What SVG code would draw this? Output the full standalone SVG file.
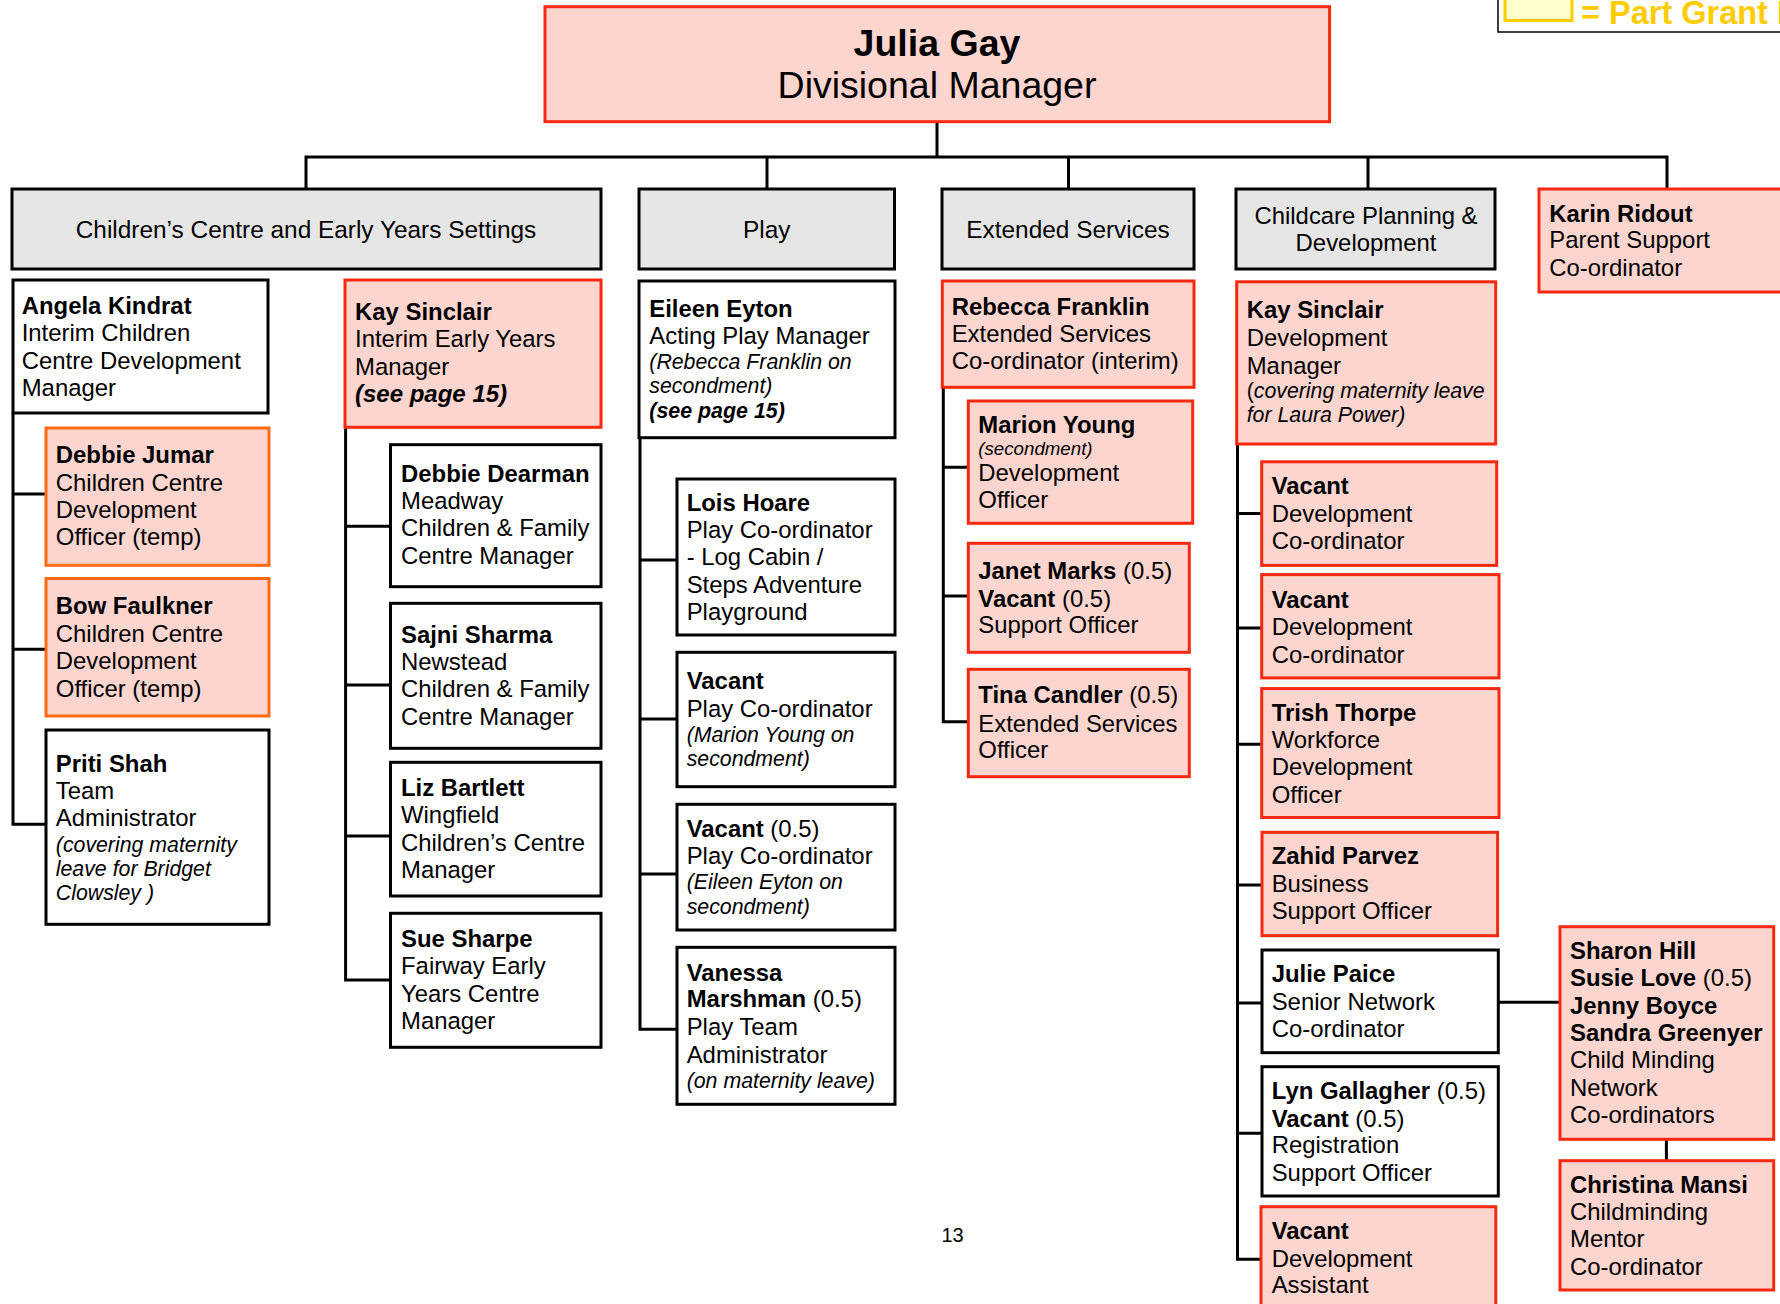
<svg xmlns="http://www.w3.org/2000/svg" width="1780" height="1304" viewBox="0 0 1780 1304">
<style>
.t{font-family:"Liberation Sans",Arial,Helvetica,sans-serif;font-size:23.9px;fill:#000}
.b{font-weight:bold}
.i{font-style:italic;font-size:21.3px}
.h{font-size:24.4px}
.bk{fill:#fff;stroke:#000;stroke-width:3}
.rd{fill:#FCD5CE;stroke:#F5290F;stroke-width:3}
.or{fill:#FCD5CE;stroke:#FF6A13;stroke-width:3}
.gr{fill:#E6E6E6;stroke:#000;stroke-width:3}
.c{fill:none;stroke:#000;stroke-width:3}
</style>
<rect width="1780" height="1304" fill="#fff"/>

<g id="legend">
<path d="M1498,-2 V32 H1784" fill="none" stroke="#000" stroke-width="1.5"/>
<rect x="1505" y="-6" width="67" height="26.5" fill="#FFFFCC" stroke="#FFCC00" stroke-width="3"/>
<text class="t b" x="1581" y="24" style="font-size:32.5px;fill:#FFCC00">= Part Grant Funded</text>
</g>

<g id="connectors">
<path class="c" d="M937,121 V157 M306,189 V157 H1667 V189 M767,157 V189 M1068.5,157 V189 M1368,157 V189"/>
<path class="c" d="M13,413 V824.3 H46 M13,494 H46 M13,649.3 H46"/>
<path class="c" d="M345.6,427 V980 H390.5 M345.6,526.3 H390.5 M345.6,685 H390.5 M345.6,836 H390.5"/>
<path class="c" d="M640,437.7 V1029.3 H677 M640,560 H677 M640,719 H677 M640,874 H677"/>
<path class="c" d="M943.3,387.3 V721.7 H968.3 M943.3,467.3 H968.3 M943.3,596 H968.3"/>
<path class="c" d="M1237.5,444 V1259.3 H1261.7 M1237.5,513.6 H1261.7 M1237.5,627.9 H1261.7 M1237.5,744.3 H1261.7 M1237.5,885 H1262 M1237.5,1003 H1262 M1237.5,1133.3 H1262"/>
<path class="c" d="M1498.3,1002.3 H1560 M1666.4,1139.3 V1160.7"/>
</g>

<g id="n-julia">
<rect class="rd" x="545" y="6.7" width="784.6" height="115"/>
<text class="t" text-anchor="middle" style="font-size:37.5px"><tspan class="b" x="937" y="55.5">Julia Gay</tspan><tspan x="937" y="97.5">Divisional Manager</tspan></text>
</g>

<g id="h-children">
<rect class="gr" x="12" y="189" width="589" height="80"/>
<text class="t h" x="306" y="238.3" text-anchor="middle">Children’s Centre and Early Years Settings</text>
</g>
<g id="h-play">
<rect class="gr" x="639" y="189" width="255.5" height="80"/>
<text class="t h" x="766.7" y="238.3" text-anchor="middle">Play</text>
</g>
<g id="h-extended">
<rect class="gr" x="942" y="189" width="252" height="80"/>
<text class="t h" x="1068" y="238.3" text-anchor="middle">Extended Services</text>
</g>
<g id="h-childcare">
<rect class="gr" x="1236" y="189" width="259" height="80"/>
<text class="t" text-anchor="middle"><tspan x="1366" y="224.3">Childcare Planning &amp;</tspan><tspan x="1366" y="251">Development</tspan></text>
</g>
<g id="n-karin">
<rect class="rd" x="1539" y="189" width="260" height="103"/>
<text class="t"><tspan class="b" x="1549.3" y="221.7">Karin Ridout</tspan><tspan x="1549.3" y="248.3">Parent Support</tspan><tspan x="1549.3" y="276">Co-ordinator</tspan></text>
</g>

<g id="n-angela">
<rect class="bk" x="13" y="280" width="255" height="133"/>
<text class="t"><tspan class="b" x="21.7" y="314">Angela Kindrat</tspan><tspan x="21.7" y="341.3">Interim Children</tspan><tspan x="21.7" y="368.6">Centre Development</tspan><tspan x="21.7" y="395.9">Manager</tspan></text>
</g>
<g id="n-debbie-jumar">
<rect class="or" x="46" y="428" width="223" height="137.3"/>
<text class="t"><tspan class="b" x="55.8" y="463.3">Debbie Jumar</tspan><tspan x="55.8" y="490.6">Children Centre</tspan><tspan x="55.8" y="518">Development</tspan><tspan x="55.8" y="545.3">Officer (temp)</tspan></text>
</g>
<g id="n-bow">
<rect class="or" x="46" y="578.5" width="223" height="137.5"/>
<text class="t"><tspan class="b" x="55.8" y="614.3">Bow Faulkner</tspan><tspan x="55.8" y="641.7">Children Centre</tspan><tspan x="55.8" y="669">Development</tspan><tspan x="55.8" y="696.5">Officer (temp)</tspan></text>
</g>
<g id="n-priti">
<rect class="bk" x="46" y="730" width="223" height="194.3"/>
<text class="t"><tspan class="b" x="55.8" y="771.7">Priti Shah</tspan><tspan x="55.8" y="798.5">Team</tspan><tspan x="55.8" y="825.7">Administrator</tspan><tspan class="i" x="55.8" y="851.7">(covering maternity</tspan><tspan class="i" x="55.8" y="875.5">leave for Bridget</tspan><tspan class="i" x="55.8" y="900">Clowsley )</tspan></text>
</g>

<g id="n-kay-ey">
<rect class="rd" x="345" y="280" width="256" height="147.3"/>
<text class="t"><tspan class="b" x="355" y="320">Kay Sinclair</tspan><tspan x="355" y="347.3">Interim Early Years</tspan><tspan x="355" y="375">Manager</tspan><tspan class="b" x="355" y="402.3" style="font-style:italic;font-size:24px">(see page 15)</tspan></text>
</g>
<g id="n-dearman">
<rect class="bk" x="390.5" y="444.7" width="210.5" height="142"/>
<text class="t"><tspan class="b" x="401" y="481.7">Debbie Dearman</tspan><tspan x="401" y="509">Meadway</tspan><tspan x="401" y="536.3">Children &amp; Family</tspan><tspan x="401" y="563.5">Centre Manager</tspan></text>
</g>
<g id="n-sajni">
<rect class="bk" x="390.5" y="603.3" width="210.5" height="145"/>
<text class="t"><tspan class="b" x="401" y="643.3">Sajni Sharma</tspan><tspan x="401" y="670">Newstead</tspan><tspan x="401" y="697.3">Children &amp; Family</tspan><tspan x="401" y="725">Centre Manager</tspan></text>
</g>
<g id="n-liz">
<rect class="bk" x="390.5" y="762.3" width="210.5" height="133.7"/>
<text class="t"><tspan class="b" x="401" y="796">Liz Bartlett</tspan><tspan x="401" y="823.3">Wingfield</tspan><tspan x="401" y="850.7">Children’s Centre</tspan><tspan x="401" y="878.3">Manager</tspan></text>
</g>
<g id="n-sue">
<rect class="bk" x="390.5" y="913.3" width="210.5" height="134"/>
<text class="t"><tspan class="b" x="401" y="946.7">Sue Sharpe</tspan><tspan x="401" y="974">Fairway Early</tspan><tspan x="401" y="1001.7">Years Centre</tspan><tspan x="401" y="1029">Manager</tspan></text>
</g>

<g id="n-eileen">
<rect class="bk" x="639" y="281" width="256" height="156.7"/>
<text class="t"><tspan class="b" x="649.3" y="316.7">Eileen Eyton</tspan><tspan x="649.3" y="344">Acting Play Manager</tspan><tspan class="i" x="649.3" y="369.3">(Rebecca Franklin on</tspan><tspan class="i" x="649.3" y="393.3">secondment)</tspan><tspan class="b" x="649.3" y="418.3" style="font-style:italic;font-size:21.4px">(see page 15)</tspan></text>
</g>
<g id="n-lois">
<rect class="bk" x="677" y="479" width="218" height="156"/>
<text class="t"><tspan class="b" x="686.7" y="510.7">Lois Hoare</tspan><tspan x="686.7" y="537.7">Play Co-ordinator</tspan><tspan x="686.7" y="565.3">- Log Cabin /</tspan><tspan x="686.7" y="592.7">Steps Adventure</tspan><tspan x="686.7" y="620">Playground</tspan></text>
</g>
<g id="n-vacant-play1">
<rect class="bk" x="677" y="652.3" width="218" height="134.4"/>
<text class="t"><tspan class="b" x="686.7" y="689.3">Vacant</tspan><tspan x="686.7" y="716.6">Play Co-ordinator</tspan><tspan class="i" x="686.7" y="741.7">(Marion Young on</tspan><tspan class="i" x="686.7" y="766">secondment)</tspan></text>
</g>
<g id="n-vacant-play2">
<rect class="bk" x="677" y="804.3" width="218" height="125.7"/>
<text class="t"><tspan class="b" x="686.7" y="836.7">Vacant</tspan><tspan> (0.5)</tspan><tspan x="686.7" y="864">Play Co-ordinator</tspan><tspan class="i" x="686.7" y="889.3">(Eileen Eyton on</tspan><tspan class="i" x="686.7" y="914">secondment)</tspan></text>
</g>
<g id="n-vanessa">
<rect class="bk" x="677" y="947.3" width="218" height="157"/>
<text class="t"><tspan class="b" x="686.7" y="980.7">Vanessa</tspan><tspan class="b" x="686.7" y="1007.3">Marshman</tspan><tspan> (0.5)</tspan><tspan x="686.7" y="1035">Play Team</tspan><tspan x="686.7" y="1062.7">Administrator</tspan><tspan class="i" x="686.7" y="1087.7">(on maternity leave)</tspan></text>
</g>

<g id="n-rebecca">
<rect class="rd" x="942.3" y="281" width="251.7" height="106.3"/>
<text class="t"><tspan class="b" x="951.7" y="315">Rebecca Franklin</tspan><tspan x="951.7" y="341.7">Extended Services</tspan><tspan x="951.7" y="369">Co-ordinator (interim)</tspan></text>
</g>
<g id="n-marion">
<rect class="rd" x="968.3" y="401" width="224.4" height="122.3"/>
<text class="t"><tspan class="b" x="978.3" y="433.3">Marion Young</tspan><tspan class="i" x="978.3" y="455" style="font-size:18.7px">(secondment)</tspan><tspan x="978.3" y="480.7">Development</tspan><tspan x="978.3" y="507.7">Officer</tspan></text>
</g>
<g id="n-janet">
<rect class="rd" x="968.3" y="543.3" width="221" height="109"/>
<text class="t"><tspan class="b" x="978.3" y="579.3">Janet Marks</tspan><tspan> (0.5)</tspan><tspan class="b" x="978.3" y="606.7">Vacant</tspan><tspan> (0.5)</tspan><tspan x="978.3" y="633.3">Support Officer</tspan></text>
</g>
<g id="n-tina">
<rect class="rd" x="968.3" y="669.3" width="221" height="107.4"/>
<text class="t"><tspan class="b" x="978.3" y="703.3">Tina Candler</tspan><tspan> (0.5)</tspan><tspan x="978.3" y="731.7">Extended Services</tspan><tspan x="978.3" y="758.3">Officer</tspan></text>
</g>

<g id="n-kay-dev">
<rect class="rd" x="1236.7" y="281.8" width="259" height="162.2"/>
<text class="t"><tspan class="b" x="1246.7" y="318.2">Kay Sinclair</tspan><tspan x="1246.7" y="345.7">Development</tspan><tspan x="1246.7" y="373.6">Manager</tspan><tspan x="1246.7" y="397.9" style="font-size:21.3px">(</tspan><tspan class="i">covering maternity leave</tspan><tspan class="i" x="1246.7" y="421.8">for Laura Power)</tspan></text>
</g>
<g id="n-vacant-dc1">
<rect class="rd" x="1261.7" y="461.8" width="235" height="103.6"/>
<text class="t"><tspan class="b" x="1271.7" y="494.3">Vacant</tspan><tspan x="1271.7" y="521.8">Development</tspan><tspan x="1271.7" y="548.6">Co-ordinator</tspan></text>
</g>
<g id="n-vacant-dc2">
<rect class="rd" x="1261.7" y="574.6" width="237.3" height="103.3"/>
<text class="t"><tspan class="b" x="1271.7" y="607.5">Vacant</tspan><tspan x="1271.7" y="635">Development</tspan><tspan x="1271.7" y="662.9">Co-ordinator</tspan></text>
</g>
<g id="n-trish">
<rect class="rd" x="1261.7" y="688.6" width="237.3" height="128.9"/>
<text class="t"><tspan class="b" x="1271.7" y="720.7">Trish Thorpe</tspan><tspan x="1271.7" y="747.9">Workforce</tspan><tspan x="1271.7" y="775.4">Development</tspan><tspan x="1271.7" y="802.9">Officer</tspan></text>
</g>
<g id="n-zahid">
<rect class="rd" x="1262" y="832.3" width="235.6" height="103.4"/>
<text class="t"><tspan class="b" x="1271.7" y="864.3">Zahid Parvez</tspan><tspan x="1271.7" y="891.7">Business</tspan><tspan x="1271.7" y="919">Support Officer</tspan></text>
</g>
<g id="n-julie">
<rect class="bk" x="1262" y="950" width="236.3" height="102.7"/>
<text class="t"><tspan class="b" x="1271.7" y="982.3">Julie Paice</tspan><tspan x="1271.7" y="1010">Senior Network</tspan><tspan x="1271.7" y="1036.7">Co-ordinator</tspan></text>
</g>
<g id="n-lyn">
<rect class="bk" x="1262" y="1066.7" width="236.3" height="129.3"/>
<text class="t"><tspan class="b" x="1271.7" y="1099.3">Lyn Gallagher</tspan><tspan> (0.5)</tspan><tspan class="b" x="1271.7" y="1126.7">Vacant</tspan><tspan> (0.5)</tspan><tspan x="1271.7" y="1153.3">Registration</tspan><tspan x="1271.7" y="1180.7">Support Officer</tspan></text>
</g>
<g id="n-vacant-da">
<rect class="rd" x="1261" y="1206.7" width="234.8" height="120"/>
<text class="t"><tspan class="b" x="1271.7" y="1239.3">Vacant</tspan><tspan x="1271.7" y="1266.7">Development</tspan><tspan x="1271.7" y="1293.3">Assistant</tspan></text>
</g>
<g id="n-sharon">
<rect class="rd" x="1560" y="926.7" width="213.7" height="212.6"/>
<text class="t"><tspan class="b" x="1570" y="959.3">Sharon Hill</tspan><tspan class="b" x="1570" y="986">Susie Love</tspan><tspan> (0.5)</tspan><tspan class="b" x="1570" y="1014">Jenny Boyce</tspan><tspan class="b" x="1570" y="1041">Sandra Greenyer</tspan><tspan x="1570" y="1068.3">Child Minding</tspan><tspan x="1570" y="1096">Network</tspan><tspan x="1570" y="1123.3">Co-ordinators</tspan></text>
</g>
<g id="n-christina">
<rect class="rd" x="1560" y="1160.7" width="213.7" height="129.3"/>
<text class="t"><tspan class="b" x="1570" y="1192.7">Christina Mansi</tspan><tspan x="1570" y="1220">Childminding</tspan><tspan x="1570" y="1247.3">Mentor</tspan><tspan x="1570" y="1275">Co-ordinator</tspan></text>
</g>

<text class="t" x="952.5" y="1242.3" text-anchor="middle" style="font-size:20px">13</text>
</svg>
